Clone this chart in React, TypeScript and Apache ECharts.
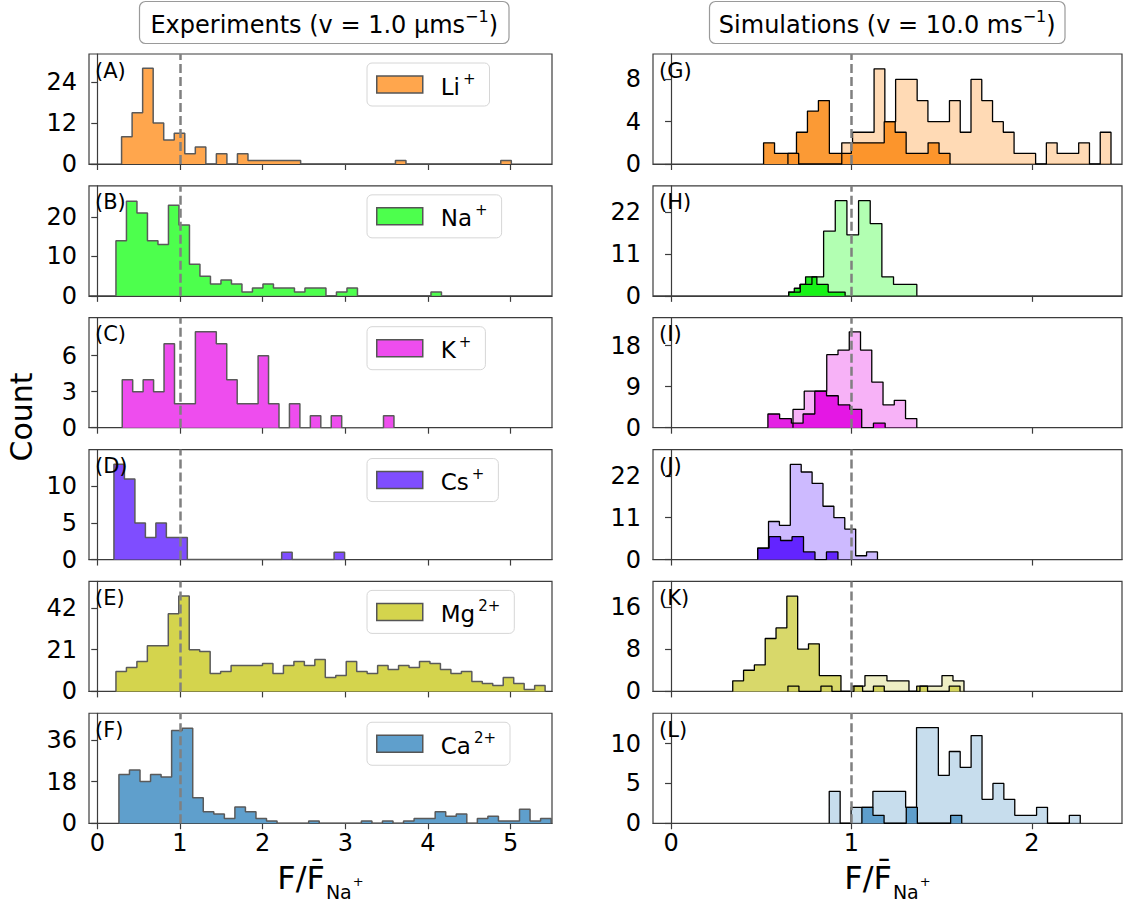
import React, { useEffect, useRef } from "react";
import * as echarts from "echarts";

// ---------- DATA ----------
const panelLabelsExp = ["(A)", "(B)", "(C)", "(D)", "(E)", "(F)"];
const panelLabelsSim = ["(G)", "(H)", "(I)", "(J)", "(K)", "(L)"];
const ionNames = ["Li", "Na", "K", "Cs", "Mg", "Ca"];
const ionCharges = ["+", "+", "+", "+", "2+", "2+"];

const xTicksExp = [0, 1, 2, 3, 4, 5];
const xTicksSim = [0, 1, 2];
const yTicksExp = [[0, 12, 24], [0, 10, 20], [0, 3, 6], [0, 5, 10], [0, 21, 42], [0, 18, 36]];
const yMaxExp = [32.2, 27.9, 9.16, 15.0, 55.3, 47.5];
const yTicksSim = [[0, 4, 8], [0, 11, 22], [0, 9, 18], [0, 11, 22], [0, 8, 16], [0, 5, 10]];
const yMaxSim = [10.4, 28.9, 24.1, 28.9, 20.8, 13.8];

// Experiments histograms: [bin start, bin width] and counts
const liExpBins = [0.294, 0.1274];
const liExpCounts = [8, 15, 28, 12, 7, 9, 3, 5, 0, 3, 0, 3, 1, 1, 1, 1, 1, 0, 0, 0, 0, 0, 0, 0, 0, 0, 1, 0, 0, 0, 0, 0, 0, 0, 0, 0, 1];
const naExpBins = [0.226, 0.127];
const naExpCounts = [14, 24, 21, 14, 13, 23, 18, 8, 5, 3, 4, 3, 1, 2, 3, 2, 2, 1, 2, 2, 0, 1, 2, 0, 0, 0, 0, 0, 0, 0, 1];
const kExpBins = [0.302, 0.1264];
const kExpCounts = [4, 3, 4, 3, 7, 2, 2, 8, 8, 7, 4, 2, 2, 6, 2, 0, 2, 0, 1, 0, 1, 0, 0, 0, 0, 1];
const csExpBins = [0.2016, 0.1268];
const csExpCounts = [13, 11, 5, 3, 5, 3, 3, 0, 0, 0, 0, 0, 0, 0, 0, 0, 1, 0, 0, 0, 0, 1];
const mgExpBins = [0.226, 0.1266];
const mgExpCounts = [10, 12, 15, 23, 23, 39, 48, 21, 20, 9, 10, 13, 13, 13, 14, 9, 13, 15, 13, 16, 7, 8, 15, 10, 9, 13, 11, 13, 12, 15, 14, 11, 9, 10, 5, 4, 3, 7, 4, 1, 3];
const caExpBins = [0.262, 0.1275];
const caExpCounts = [21, 23, 18, 21, 20, 40, 41, 11, 5, 4, 2, 7, 5, 2, 1, 0, 0, 0, 1, 0, 0, 0, 0, 1, 0, 1, 0, 1, 2, 2, 5, 3, 4, 0, 2, 3, 1, 1, 6, 1, 2];

// Simulations: dark (front-coloured) and light histograms
const liSimDarkBins = [0.513, 0.0608];
const liSimDarkCounts = [2, 1, 1, 3, 5, 6, 1, 1, 2, 2, 2, 4, 3, 1, 1, 2, 1];
const liSimLightBins = [0.648, 0.0597];
const liSimLightCounts = [1, 0, 0, 0, 0, 2, 3, 3, 9, 4, 8, 8, 6, 4, 4, 6, 3, 8, 6, 4, 3, 1, 1, 0, 2, 1, 1, 2, 0, 3];
const naSimDarkBins = [0.652, 0.0313];
const naSimDarkCounts = [1, 2, 3, 5, 5, 3, 3, 1, 1, 1];
const naSimLightBins = [0.652, 0.0646];
const naSimLightCounts = [1, 3, 5, 17, 25, 16, 25, 19, 5, 3, 3];
const kSimDarkBins = [0.537, 0.065];
const kSimDarkCounts = [3, 2, 1, 3, 8, 7, 5, 4, 0, 1];
const kSimLightBins = [0.676, 0.0624];
const kSimLightCounts = [4, 8, 8, 16, 17, 21, 17, 10, 5, 6, 2];
const csSimDarkBins = [0.48, 0.0636];
const csSimDarkCounts = [3, 6, 5, 6, 2, 0, 2];
const csSimLightBins = [0.48, 0.0604];
const csSimLightCounts = [3, 10, 9, 25, 23, 20, 14, 11, 8, 1, 2];
const mgSimDarkBins = [0.342, 0.06];
const mgSimDarkCounts = [2, 4, 5, 10, 12, 18, 8, 9, 3, 3, 0, 1, 0, 1, 0, 0, 0, 1, 0, 0, 1];
const mgSimLightBins = [0.648, 0.061];
const mgSimLightCounts = [1, 0, 0, 1, 0, 0, 1, 3, 3, 2, 2, 0, 1, 1, 3, 2];
const caSimDarkBins = [1.058, 0.0615];
const caSimDarkCounts = [2, 1, 0, 0, 2, 0, 0, 0, 1];
const caSimLightBins = [0.877, 0.0605];
const caSimLightCounts = [4, 0, 2, 2, 4, 4, 4, 2, 12, 12, 6, 9, 7, 11, 3, 5, 3, 1, 1, 2, 0, 0, 1];

const expHists = [
  [liExpBins, liExpCounts], [naExpBins, naExpCounts], [kExpBins, kExpCounts],
  [csExpBins, csExpCounts], [mgExpBins, mgExpCounts], [caExpBins, caExpCounts],
];
const simHists = [
  [liSimDarkBins, liSimDarkCounts, liSimLightBins, liSimLightCounts],
  [naSimDarkBins, naSimDarkCounts, naSimLightBins, naSimLightCounts],
  [kSimDarkBins, kSimDarkCounts, kSimLightBins, kSimLightCounts],
  [csSimDarkBins, csSimDarkCounts, csSimLightBins, csSimLightCounts],
  [mgSimDarkBins, mgSimDarkCounts, mgSimLightBins, mgSimLightCounts],
  [caSimDarkBins, caSimDarkCounts, caSimLightBins, caSimLightCounts],
];

// ---------- STYLE ----------
const expFill = ["#ffa64d", "#4dff4d", "#ee4dee", "#7f4dff", "#d4d44d", "#5f9fcc"];
const simDark = ["#fb9a35", "#22ee22", "#e422e4", "#6422ff", "#d8d86a", "#5f9fcc"];
const simLight = [
  "rgba(255,140,26,0.32)", "rgba(0,255,0,0.3)", "rgba(230,0,230,0.3)",
  "rgba(100,40,255,0.32)", "rgba(200,200,60,0.3)", "rgba(95,159,204,0.35)",
];

const FONT = "DejaVu Sans";
const LEFT_X = 89;
const LEFT_W = 463;
const RIGHT_X = 653;
const RIGHT_W = 469;
const TOP0 = 54;
const PITCH = 131.85;
const GH = 110;
const AXIS_COLOR = "#3c3c3c";
const TICK_FONT = 24;

function stepData(bins: number[], counts: number[]) {
  const [start, width] = bins;
  const pts: number[][] = [[start, 0]];
  counts.forEach((c, i) => pts.push([start + i * width, c]));
  pts.push([start + counts.length * width, 0]);
  return pts;
}

function buildOption() {
  const grid: any[] = [];
  const xAxis: any[] = [];
  const yAxis: any[] = [];
  const series: any[] = [];
  const legend: any[] = [];
  const graphic: any[] = [];

  const markLine = {
    symbol: ["none", "none"],
    silent: true,
    label: { show: false },
    lineStyle: { color: "#808080", type: [9, 4], width: 2.5 },
    data: [{ xAxis: 1 }],
  };

  const addAxes = (left: number, width: number, top: number, xmax: number, xticks: number[], showX: boolean, yticks: number[], ymax: number) => {
    const idx = grid.length;
    grid.push({ left, top, width, height: GH, show: true, borderColor: AXIS_COLOR, borderWidth: 1.2, backgroundColor: "transparent" });
    xAxis.push({
      type: "value", gridIndex: idx, min: -0.1, max: xmax,
      axisLine: { show: true, onZero: false, lineStyle: { color: AXIS_COLOR, width: 1.2 } },
      axisTick: { show: true, length: 6, customValues: xticks, lineStyle: { color: AXIS_COLOR, width: 1.2 } },
      axisLabel: { show: showX, customValues: xticks, fontSize: TICK_FONT, color: "#000", margin: 8, fontFamily: FONT },
      splitLine: { show: false },
    });
    yAxis.push({
      type: "value", gridIndex: idx, min: 0, max: ymax,
      axisLine: { show: true, lineStyle: { color: AXIS_COLOR, width: 1.2 } },
      axisTick: { show: true, length: 6, customValues: yticks, lineStyle: { color: AXIS_COLOR, width: 1.2 } },
      axisLabel: { customValues: yticks, fontSize: TICK_FONT, color: "#000", margin: 12, fontFamily: FONT },
      splitLine: { show: false },
    });
    return idx;
  };

  for (let i = 0; i < 6; i++) {
    const top = TOP0 + i * PITCH;
    const last = i === 5;
    // ----- experiment panel -----
    const gi = addAxes(LEFT_X, LEFT_W, top, 5.5, xTicksExp, last, yTicksExp[i], yMaxExp[i]);
    const name = ionNames[i] + ionCharges[i];
    const [bins, counts] = expHists[i] as number[][];
    series.push({
      type: "line", name, xAxisIndex: gi, yAxisIndex: gi, step: "end",
      data: stepData(bins, counts), symbol: "none", showSymbol: false, silent: true,
      lineStyle: { color: "#5a5a5a", width: 1.5 },
      itemStyle: { color: expFill[i] },
      areaStyle: { color: expFill[i], opacity: 1 },
      markLine, z: 2,
    });
    legend.push({
      left: 367, top: top + 9, selectedMode: false,
      data: [{ name, icon: "rect", itemStyle: { color: expFill[i], borderColor: "#555", borderWidth: 1.5 } }],
      itemWidth: 46, itemHeight: 17,
      backgroundColor: "#fff", borderColor: "#d6d6d6", borderWidth: 1, borderRadius: 5,
      padding: [8, 14, 8, 9],
      formatter: () => `{n|${ionNames[i]}}{s|${ionCharges[i]}}`,
      textStyle: {
        fontFamily: FONT, fontSize: 23, color: "#000",
        rich: {
          n: { fontFamily: FONT, fontSize: 23, padding: [4, 0, 0, 13], color: "#000" },
          s: { fontFamily: FONT, fontSize: 15, verticalAlign: "top", padding: [0, 0, 0, 3], color: "#000" },
        },
      },
    });
    graphic.push({
      type: "text", x: LEFT_X + 6, y: top + 6,
      style: { text: panelLabelsExp[i], font: `21px '${FONT}'`, fill: "#000" }, z: 10,
    });

    // ----- simulation panel -----
    const gj = addAxes(RIGHT_X, RIGHT_W, top, 2.5, xTicksSim, last, yTicksSim[i], yMaxSim[i]);
    const [db, dc, lb, lc] = simHists[i] as number[][];
    series.push({
      type: "line", name: `sim-dark-${ionNames[i]}`, xAxisIndex: gj, yAxisIndex: gj, step: "end",
      data: stepData(db, dc), symbol: "none", showSymbol: false, silent: true,
      lineStyle: { color: "#000", width: 1.3 },
      itemStyle: { color: simDark[i] },
      areaStyle: { color: simDark[i], opacity: 1 }, z: 2,
    });
    series.push({
      type: "line", name: `sim-light-${ionNames[i]}`, xAxisIndex: gj, yAxisIndex: gj, step: "end",
      data: stepData(lb, lc), symbol: "none", showSymbol: false, silent: true,
      lineStyle: { color: "#000", width: 1.3 },
      itemStyle: { color: simLight[i] },
      areaStyle: { color: simLight[i], opacity: 1 },
      markLine, z: 2,
    });
    graphic.push({
      type: "text", x: RIGHT_X + 6, y: top + 6,
      style: { text: panelLabelsSim[i], font: `21px '${FONT}'`, fill: "#000" }, z: 10,
    });
  }

  // Titles
  const titleRich = {
    s: { fontFamily: FONT, fontSize: 16, verticalAlign: "top", fill: "#000" },
    m: { fontFamily: FONT, fontSize: 24, fill: "#000", padding: [4, 0, 0, 0] },
  };
  const titles = [
    { x: 139.5, w: 369.5, text: "{m|Experiments (v = 1.0 μms}{s|−1}{m|)}" },
    { x: 709.5, w: 355.5, text: "{m|Simulations (v = 10.0 ms}{s|−1}{m|)}" },
  ];
  titles.forEach((t) => {
    graphic.push({
      type: "rect", shape: { x: t.x, y: 1.5, width: t.w, height: 42, r: 6 },
      style: { fill: "#fff", stroke: "#9a9a9a", lineWidth: 1.2 }, z: 10,
    });
    graphic.push({
      type: "text", x: t.x + t.w / 2, y: 22.5,
      style: { text: t.text, rich: titleRich, font: `24px '${FONT}'`, align: "center", verticalAlign: "middle", fill: "#000" }, z: 11,
    });
  });

  // Axis titles
  graphic.push({
    type: "text", x: 21, y: 417, rotation: Math.PI / 2,
    style: { text: "Count", font: `30px '${FONT}'`, align: "center", verticalAlign: "middle", fill: "#000" }, z: 10,
  });
  const xlabRich = {
    m: { fontFamily: FONT, fontSize: 32, fill: "#000", lineHeight: 40, verticalAlign: "top" },
    b: { fontFamily: FONT, fontSize: 19, fill: "#000", lineHeight: 19, verticalAlign: "bottom", padding: [0, 0, 1, 1] },
    p: { fontFamily: FONT, fontSize: 13, fill: "#000", lineHeight: 13, verticalAlign: "bottom", padding: [0, 0, 14, 1] },
  };
  [LEFT_X + LEFT_W / 2, RIGHT_X + RIGHT_W / 2].forEach((cx) => {
    graphic.push({
      type: "text", x: cx, y: 882,
      style: { text: "{m|F/F\u0304}{b|Na}{p|+}", rich: xlabRich, font: `32px '${FONT}'`, align: "center", verticalAlign: "middle", fill: "#000" }, z: 10,
    });
  });

  return {
    animation: false,
    textStyle: { fontFamily: FONT },
    grid, xAxis, yAxis, series, legend, graphic,
  };
}

export default function App() {
  const ref = useRef<HTMLDivElement>(null);
  useEffect(() => {
    if (!ref.current) return;
    const chart = echarts.init(ref.current, undefined, { renderer: "svg" });
    chart.setOption(buildOption() as any);
    return () => chart.dispose();
  }, []);
  return (
    <div
      ref={ref}
      style={{ position: "fixed", left: 0, top: 0, width: 1123, height: 901, background: "#fff" }}
    />
  );
}
